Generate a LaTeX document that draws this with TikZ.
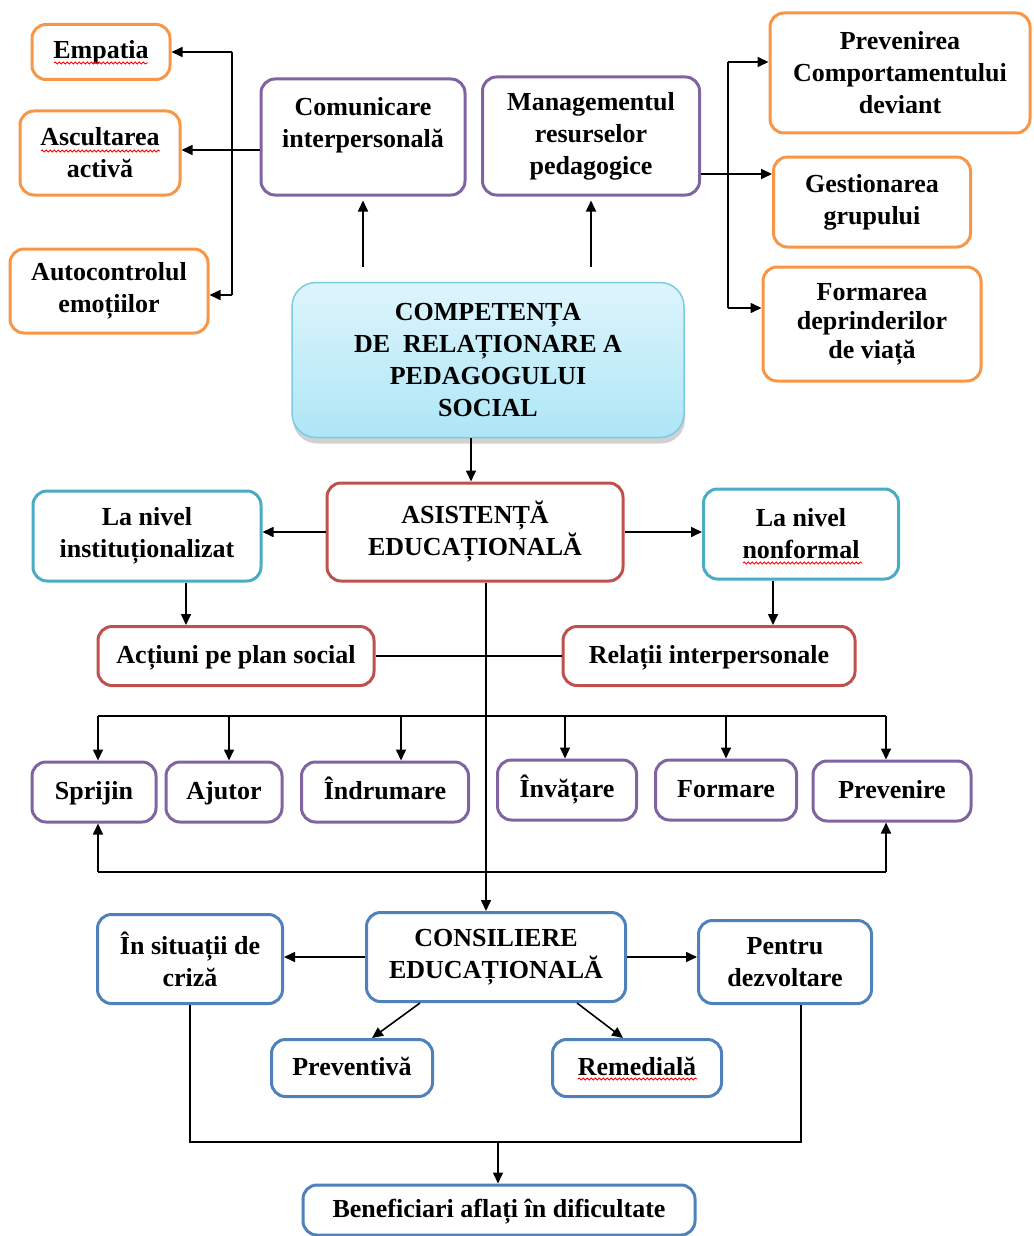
\documentclass[tikz,border=0pt]{standalone}
\usepackage{fontspec}
\setmainfont{Liberation Serif}
\usetikzlibrary{arrows.meta,shadows,decorations.pathmorphing}
\definecolor{cOrange}{HTML}{F79646}
\definecolor{cPurple}{HTML}{8064A2}
\definecolor{cRed}{HTML}{C0504D}
\definecolor{cTeal}{HTML}{4BACC6}
\definecolor{cBlue}{HTML}{4F81BD}
\definecolor{cTop}{HTML}{DDF5FC}
\definecolor{cBot}{HTML}{AEE6F6}
\definecolor{cEdge}{HTML}{7CCBE2}
\begin{document}
\begin{tikzpicture}[x=1pt,y=-1pt,
  box/.style={draw, line width=3pt, rounded corners=14pt, fill=white,
    align=center, inner sep=0pt, text=black,
    font=\bfseries\fontsize{26}{32}\selectfont},
  obox/.style={box, draw=cOrange},
  pbox/.style={box, draw=cPurple},
  rbox/.style={box, draw=cRed},
  tbox/.style={box, draw=cTeal},
  bbox/.style={box, draw=cBlue},
  oneline/.style={text height=18pt, text depth=4pt},
  txt/.style={align=center, inner sep=0pt, text=black,
    font=\bfseries\fontsize{26}{32}\selectfont},
  con/.style={draw=black, line width=1.6pt},
  arr/.style={con, -{Triangle[length=11pt,width=10pt]}},
  squig/.style={draw=red, line width=0.9pt, decorate,
    decoration={snake, amplitude=1pt, segment length=4pt}}]
\useasboundingbox (0,0) rectangle (1033,1236);

% ---- top left group
\node[obox, oneline, minimum width=138pt, minimum height=55pt] (emp) at (101,52) {Empatia};
\node[obox, minimum width=160pt, minimum height=84pt] (asc) at (100,153) {Ascultarea\\activă};
\node[obox, minimum width=198pt, minimum height=84pt] (aut) at (109,291) {Autocontrolul\\emoțiilor};
\node[pbox, minimum width=204pt, minimum height=116pt] (com) at (363,137) {};
\node[txt] (comT) at (363,125) {Comunicare\\interpersonală};

% ---- top right group
\node[pbox, minimum width=217pt, minimum height=118pt] (man) at (591,136) {Managementul\\resurselor\\pedagogice};
\node[obox, minimum width=260pt, minimum height=120pt] (prev) at (900,73) {Prevenirea\\Comportamentului\\deviant};
\node[obox, minimum width=197pt, minimum height=90pt] (gest) at (872,202) {Gestionarea\\grupului};
\node[obox, minimum width=218pt, minimum height=114pt, font=\bfseries\fontsize{26}{29}\selectfont] (form) at (872,324) {Formarea\\deprinderilor\\de viață};

% ---- central competence box
\node[draw=cEdge, line width=1.5pt, rounded corners=24pt,
  top color=cTop, bottom color=cBot,
  drop shadow={shadow xshift=1pt, shadow yshift=-6pt, opacity=0.3, fill=black!60},
  minimum width=392pt, minimum height=155pt, align=center, inner sep=0pt,
  font=\bfseries\fontsize{26}{32}\selectfont] (comp) at (488,360)
  {COMPETENȚA\\DE\ \ RELAȚIONARE A\\PEDAGOGULUI\\SOCIAL};

% ---- educational assistance
\node[rbox, minimum width=296pt, minimum height=98pt] (asis) at (475,532) {ASISTENȚĂ\\EDUCAȚIONALĂ};
\node[tbox, minimum width=228pt, minimum height=90pt] (inst) at (147,536) {La nivel\\instituționalizat};
\node[tbox, minimum width=195pt, minimum height=90pt] (nonf) at (801,534) {La nivel\\nonformal};
\node[rbox, oneline, minimum width=276pt, minimum height=59pt] (act) at (236,656) {Acțiuni pe plan social};
\node[rbox, oneline, minimum width=292pt, minimum height=59pt] (rel) at (709,656) {Relații interpersonale};

% ---- row of forms
\node[pbox, oneline, minimum width=124pt, minimum height=60pt] (spr) at (94,792) {Sprijin};
\node[pbox, oneline, minimum width=116pt, minimum height=60pt] (aju) at (224,792) {Ajutor};
\node[pbox, oneline, minimum width=167pt, minimum height=60pt] (ind) at (385,792) {Îndrumare};
\node[pbox, oneline, minimum width=139pt, minimum height=60pt] (inv) at (567,790) {Învățare};
\node[pbox, oneline, minimum width=141pt, minimum height=60pt] (frm) at (726,790) {Formare};
\node[pbox, oneline, minimum width=158pt, minimum height=60pt] (pvn) at (892,791) {Prevenire};

% ---- counselling
\node[bbox, minimum width=259pt, minimum height=89pt] (cons) at (496,957) {CONSILIERE\\EDUCAȚIONALĂ};
\node[bbox, minimum width=185pt, minimum height=89pt] (criz) at (190,959) {În situații de\\criză};
\node[bbox, minimum width=173pt, minimum height=83pt] (pent) at (785,962) {Pentru\\dezvoltare};
\node[bbox, oneline, minimum width=161pt, minimum height=57pt] (pvt) at (352,1068) {Preventivă};
\node[bbox, oneline, minimum width=169pt, minimum height=57pt] (rem) at (637,1068) {Remedială};
\node[bbox, oneline, minimum width=392pt, minimum height=50pt] (ben) at (499,1210) {Beneficiari aflați în dificultate};

% ---- spell-check squiggles
\draw[squig] (54,63) -- (148,63);
\draw[squig] (41,151) -- (160,151);
\draw[squig] (743,563) -- (862,563);
\draw[squig] (578,1079) -- (697,1079);

% ---- helper coordinates
\coordinate (lsx) at (232,0);
\coordinate (rsx) at (728,62);
\coordinate (rsm) at (728,174);
\coordinate (rsb) at (728,308);
\coordinate (cx) at (471,0);
\coordinate (ix) at (186,0);
\coordinate (nx) at (773,0);
\coordinate (mx) at (486,0);
\coordinate (d1) at (98,716);
\coordinate (d2) at (229,716);
\coordinate (d3) at (401,716);
\coordinate (d4) at (565,716);
\coordinate (d5) at (726,716);
\coordinate (d6) at (886,716);
\coordinate (u1) at (98,872);
\coordinate (u6) at (886,872);
\coordinate (bj) at (498,1142);
\coordinate (px) at (801,0);

% ---- left connectors
\draw[con] (lsx |- emp.east) -- (lsx |- 0,295);
\draw[arr] (lsx |- emp.east) -- (emp.east);
\draw[arr] (com.west |- 0,150) -- (asc.east |- 0,150);
\draw[arr] (lsx |- 0,295) -- (aut.east |- 0,295);
\draw[arr] ([yshift=15pt]comp.north -| com.south) -- ([yshift=-4pt]com.south);
\draw[arr] ([yshift=15pt]comp.north -| man.south) -- ([yshift=-4pt]man.south);

% ---- right connectors
\draw[con] (man.east |- rsm) -- (rsm);
\draw[con] (rsx) -- (rsb);
\draw[arr] (rsx) -- (prev.west |- rsx);
\draw[arr] (rsm) -- (gest.west |- rsm);
\draw[arr] (rsb) -- (form.west |- rsb);

% ---- central stem
\draw[arr] (cx |- comp.south) -- (cx |- asis.north);
\draw[arr] (asis.west) -- (inst.east |- asis.west);
\draw[arr] (asis.east) -- (nonf.west |- asis.east);
\draw[arr] (ix |- inst.south) -- (ix |- act.north);
\draw[arr] (nx |- nonf.south) -- (nx |- rel.north);
\draw[con] (act.east) -- (rel.west);
\draw[arr] (mx |- asis.south) -- (mx |- cons.north);

% ---- distribution to the row of forms
\draw[con] (d1) -- (d6);
\draw[arr] (d1) -- (d1 |- spr.north);
\draw[arr] (d2) -- (d2 |- aju.north);
\draw[arr] (d3) -- (d3 |- ind.north);
\draw[arr] (d4) -- (d4 |- inv.north);
\draw[arr] (d5) -- (d5 |- frm.north);
\draw[arr] (d6) -- (d6 |- pvn.north);
\draw[con] (u1) -- (u6);
\draw[arr] (u1) -- (u1 |- spr.south);
\draw[arr] (u6) -- (u6 |- pvn.south);

% ---- counselling connectors
\draw[arr] (cons.west) -- (criz.east |- cons.west);
\draw[arr] (cons.east) -- (pent.west |- cons.east);
\draw[arr] ([xshift=-76pt]cons.south) -- ([xshift=20pt]pvt.north);
\draw[arr] ([xshift=81pt]cons.south) -- ([xshift=-14pt]rem.north);
\draw[con] (criz.south) |- (bj) -| (px |- pent.south);
\draw[arr] (bj) -- (bj |- ben.north);
\end{tikzpicture}
\end{document}
